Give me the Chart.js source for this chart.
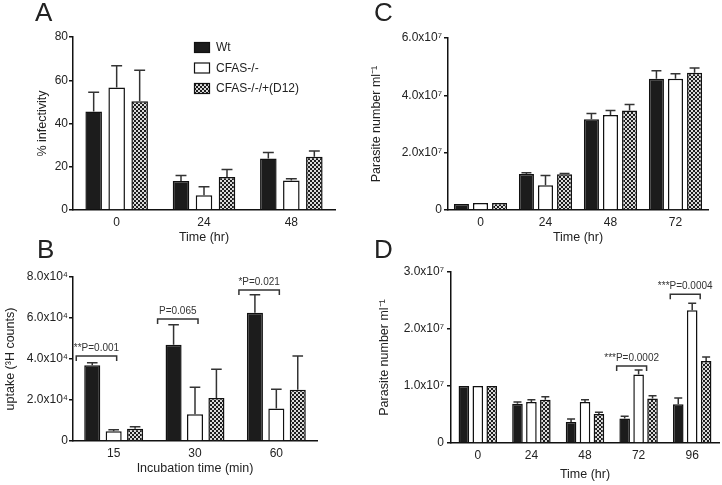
<!DOCTYPE html>
<html>
<head>
<meta charset="utf-8">
<script src="https://cdn.jsdelivr.net/npm/chart.js@4.4.1/dist/chart.umd.min.js"></script>
<style>
  body { margin: 0; background: #fff; width: 722px; height: 485px; position: relative; overflow: hidden; }
  .panel { position: absolute; }
</style>
</head>
<body>
<div class="panel" style="left:0;top:0"><canvas id="chartA" width="361" height="247"></canvas></div>
<div class="panel" style="left:361px;top:0"><canvas id="chartC" width="361" height="247"></canvas></div>
<div class="panel" style="left:0;top:236px"><canvas id="chartB" width="361" height="242"></canvas></div>
<div class="panel" style="left:361px;top:236px"><canvas id="chartD" width="361" height="248"></canvas></div>
<script>
// series names (shared by all panels)
const seriesNames = ['Wt', 'CFAS-/-', 'CFAS-/-/+(D12)'];

// A - % infectivity
const infectTimes = ['0', '24', '48'];
const infectWt = [45.6, 13.4, 23.8];
const infectWtSd = [8.9, 2.5, 2.8];
const infectKo = [56.7, 6.8, 13.6];
const infectKoSd = [10.0, 4.0, 0.9];
const infectD12 = [50.3, 15.3, 24.6];
const infectD12Sd = [14.3, 3.4, 2.7];
const infectTicks = [0, 20, 40, 60, 80];

// B - uptake (3H counts)
const uptakeTimes = ['15', '30', '60'];
const uptakeWt = [36900, 47000, 62600];
const uptakeWtSd = [1300, 9700, 8800];
const uptakeKo = [4700, 13000, 15800];
const uptakeKoSd = [800, 13200, 9400];
const uptakeD12 = [6000, 21000, 25000];
const uptakeD12Sd = [1000, 14000, 16500];
const uptakeTicks = [0, 20000, 40000, 60000, 80000];
const uptakeBrackets = [
  { group: 0, value: 41500, label: '**P=0.001' },
  { group: 1, value: 59500, label: 'P=0.065' },
  { group: 2, value: 73700, label: '*P=0.021' }
];

// C - parasite growth
const growthTimes = ['0', '24', '48', '72'];
const growthWt = [2.1e6, 1.26e7, 3.17e7, 4.58e7];
const growthWtSd = [0, 4e5, 2.0e6, 2.8e6];
const growthKo = [2.4e6, 8.6e6, 3.31e7, 4.58e7];
const growthKoSd = [0, 3.4e6, 1.6e6, 1.7e6];
const growthD12 = [2.4e6, 1.25e7, 3.47e7, 4.79e7];
const growthD12Sd = [0, 2e5, 2.1e6, 1.6e6];
const growthTicks = [0, 2e7, 4e7, 6e7];

// D - parasite survival
const survTimes = ['0', '24', '48', '72', '96'];
const survWt = [1.0e7, 6.9e6, 3.7e6, 4.3e6, 6.8e6];
const survWtSd = [0, 3e5, 5e5, 4e5, 1.1e6];
const survKo = [1.0e7, 7.2e6, 7.2e6, 1.20e7, 2.33e7];
const survKoSd = [0, 4e5, 4e5, 8e5, 1.2e6];
const survD12 = [1.0e7, 7.6e6, 5.1e6, 7.8e6, 1.44e7];
const survD12Sd = [0, 5e5, 3e5, 5e5, 7e5];
const survTicks = [0, 1e7, 2e7, 3e7];
const survBrackets = [
  { group: 3, value: 1.35e7, label: '***P=0.0002' },
  { group: 4, value: 2.61e7, label: '***P=0.0004' }
];

const FONT = '"Liberation Sans", Arial, sans-serif';
Chart.defaults.font.family = FONT;
Chart.defaults.font.size = 12;
Chart.defaults.color = '#222';

// checker pattern for the complemented line
function checkerPattern() {
  const c = document.createElement('canvas');
  c.width = 4; c.height = 4;
  const g = c.getContext('2d');
  g.fillStyle = '#1e1e1e';
  g.fillRect(0, 0, 4, 4);
  g.fillStyle = '#dadada';
  g.fillRect(0, 0, 2, 2);
  g.fillRect(2, 2, 2, 2);
  return g.createPattern(c, 'repeat');
}
const checker = checkerPattern();
const fills = ['#1c1c1c', '#ffffff', checker];

const supDigits = { '0': '⁰', '1': '¹', '2': '²', '3': '³', '4': '⁴', '5': '⁵', '6': '⁶', '7': '⁷', '8': '⁸', '9': '⁹' };
function sciLabel(v, exp) {
  if (v === 0) return '0';
  return (v / Math.pow(10, exp)).toFixed(1) + 'x10' + String(exp).split('').map(d => supDigits[d]).join('');
}

// upper error whiskers
const errorBars = {
  id: 'errorBars',
  afterDatasetsDraw(chart) {
    const ctx = chart.ctx;
    const yScale = chart.scales.y;
    ctx.save();
    ctx.strokeStyle = '#333';
    ctx.lineWidth = 1.5;
    chart.data.datasets.forEach((ds, i) => {
      chart.getDatasetMeta(i).data.forEach((bar, j) => {
        const sd = ds.errors[j];
        if (!sd) return;
        const top = yScale.getPixelForValue(ds.data[j] + sd);
        const half = Math.max(4, bar.width * 0.33);
        ctx.beginPath();
        ctx.moveTo(bar.x, bar.y);
        ctx.lineTo(bar.x, top);
        ctx.moveTo(bar.x - half, top);
        ctx.lineTo(bar.x + half, top);
        ctx.stroke();
      });
    });
    ctx.restore();
  }
};

// significance brackets between Wt and CFAS-/-
const brackets = {
  id: 'brackets',
  afterDatasetsDraw(chart, args, opts) {
    if (!opts.items) return;
    const ctx = chart.ctx;
    const yScale = chart.scales.y;
    ctx.save();
    ctx.strokeStyle = '#333';
    ctx.fillStyle = '#333';
    ctx.lineWidth = 1.5;
    ctx.font = '10px ' + FONT;
    ctx.textAlign = 'center';
    ctx.textBaseline = 'alphabetic';
    opts.items.forEach(b => {
      const wt = chart.getDatasetMeta(0).data[b.group];
      const ko = chart.getDatasetMeta(1).data[b.group];
      const x1 = wt.x + opts.left;
      const x2 = ko.x + opts.right;
      const y = yScale.getPixelForValue(b.value);
      ctx.beginPath();
      ctx.moveTo(x1, y + 5);
      ctx.lineTo(x1, y);
      ctx.lineTo(x2, y);
      ctx.lineTo(x2, y + 5);
      ctx.stroke();
      ctx.fillText(b.label, (x1 + x2) / 2, y - 5);
    });
    ctx.restore();
  }
};

// big panel letter
const panelLetter = {
  id: 'panelLetter',
  afterDraw(chart, args, opts) {
    const ctx = chart.ctx;
    ctx.save();
    ctx.fillStyle = '#222';
    ctx.font = '26px ' + FONT;
    ctx.textBaseline = 'alphabetic';
    ctx.fillText(opts.text, opts.x, opts.y);
    ctx.restore();
  }
};

// legend inside panel A
const boxLegend = {
  id: 'boxLegend',
  afterDraw(chart, args, opts) {
    if (!opts.show) return;
    const ctx = chart.ctx;
    ctx.save();
    ctx.font = '12px ' + FONT;
    ctx.textBaseline = 'middle';
    chart.data.datasets.forEach((ds, i) => {
      const y = opts.y + i * 20.5;
      ctx.fillStyle = ds.backgroundColor;
      ctx.fillRect(opts.x, y, 16, 11);
      ctx.strokeStyle = '#111';
      ctx.lineWidth = 1.2;
      ctx.strokeRect(opts.x + 0.5, y + 0.5, 15, 10);
      ctx.fillStyle = '#222';
      ctx.fillText(ds.label, opts.x + 22, y + 6);
    });
    ctx.restore();
  }
};

function makeChart(id, p) {
  const values = [p.wt, p.ko, p.d12];
  const errs = [p.wtSd, p.koSd, p.d12Sd];
  return new Chart(document.getElementById(id), {
    type: 'bar',
    data: {
      labels: p.labels,
      datasets: seriesNames.map((name, i) => ({
        label: name,
        data: values[i],
        errors: errs[i],
        backgroundColor: fills[i],
        borderColor: '#111',
        borderWidth: 1.5,
        categoryPercentage: p.catPct,
        barPercentage: p.barPct
      }))
    },
    options: {
      responsive: false,
      animation: false,
      devicePixelRatio: 1,
      layout: { padding: { left: 0, top: p.padTop, right: p.padRight, bottom: 2 } },
      plugins: {
        legend: { display: false },
        tooltip: { enabled: false },
        brackets: { items: p.brackets, left: p.brLeft, right: p.brRight },
        panelLetter: p.letter,
        boxLegend: { show: !!p.legend, x: 194, y: 42 }
      },
      scales: {
        x: {
          grid: { display: false, drawTicks: false, tickLength: 0 },
          border: { display: true, color: '#111', width: 1.5 },
          ticks: { padding: 5, color: '#222', font: { size: 12 } },
          title: { display: true, text: p.xTitle, color: '#222', font: { size: 12.5 }, padding: { top: 0, bottom: 0 } },
          afterFit(scale) { scale.height = p.xHeight; }
        },
        y: {
          min: 0,
          max: p.ticks[p.ticks.length - 1],
          afterBuildTicks(scale) { scale.ticks = p.ticks.map(v => ({ value: v })); },
          grid: { display: true, drawOnChartArea: false, drawTicks: true, tickLength: 4, color: '#111', lineWidth: 1.5 },
          border: { display: true, color: '#111', width: 1.5 },
          ticks: {
            padding: p.tickPad,
            color: '#222',
            font: { size: 12 },
            callback: v => p.exp ? sciLabel(v, p.exp) : String(v)
          },
          title: { display: true, text: p.yTitle, color: '#222', font: { size: 12.5 }, padding: { top: p.yTitlePad, bottom: 0 } },
          afterFit(scale) { scale.width = p.yWidth; }
        }
      }
    },
    plugins: [errorBars, brackets, panelLetter, boxLegend]
  });
}

makeChart('chartA', {
  labels: infectTimes, wt: infectWt, ko: infectKo, d12: infectD12,
  wtSd: infectWtSd, koSd: infectKoSd, d12Sd: infectD12Sd,
  ticks: infectTicks, exp: 0,
  xTitle: 'Time (hr)', yTitle: '% infectivity',
  yWidth: 73, padTop: 37, padRight: 26, xHeight: 35, tickPad: 1, yTitlePad: 35,
  catPct: 0.79, barPct: 0.72,
  letter: { text: 'A', x: 35, y: 21 }, legend: true
});

makeChart('chartC', {
  labels: growthTimes, wt: growthWt, ko: growthKo, d12: growthD12,
  wtSd: growthWtSd, koSd: growthKoSd, d12Sd: growthD12Sd,
  ticks: growthTicks, exp: 7,
  xTitle: 'Time (hr)', yTitle: 'Parasite number ml⁻¹',
  yWidth: 87, padTop: 38, padRight: 14, xHeight: 35, tickPad: 2, yTitlePad: 8,
  catPct: 0.88, barPct: 0.79,
  letter: { text: 'C', x: 13, y: 21 }
});

makeChart('chartB', {
  labels: uptakeTimes, wt: uptakeWt, ko: uptakeKo, d12: uptakeD12,
  wtSd: uptakeWtSd, koSd: uptakeKoSd, d12Sd: uptakeD12Sd,
  ticks: uptakeTicks, exp: 4,
  xTitle: 'Incubation time (min)', yTitle: 'uptake (³H counts)',
  yWidth: 73, padTop: 41, padRight: 44, xHeight: 35, tickPad: 1, yTitlePad: 3,
  catPct: 0.79, barPct: 0.75,
  brackets: uptakeBrackets, brLeft: -16, brRight: 3,
  letter: { text: 'B', x: 37, y: 21.5 }
});

makeChart('chartD', {
  labels: survTimes, wt: survWt, ko: survKo, d12: survD12,
  wtSd: survWtSd, koSd: survKoSd, d12Sd: survD12Sd,
  ticks: survTicks, exp: 7,
  xTitle: 'Time (hr)', yTitle: 'Parasite number ml⁻¹',
  yWidth: 90, padTop: 36, padRight: 3, xHeight: 39, tickPad: 3, yTitlePad: 16,
  catPct: 0.78, barPct: 0.76,
  brackets: survBrackets, brLeft: -8, brRight: 8,
  letter: { text: 'D', x: 13, y: 21.5 }
});
</script>
</body>
</html>
